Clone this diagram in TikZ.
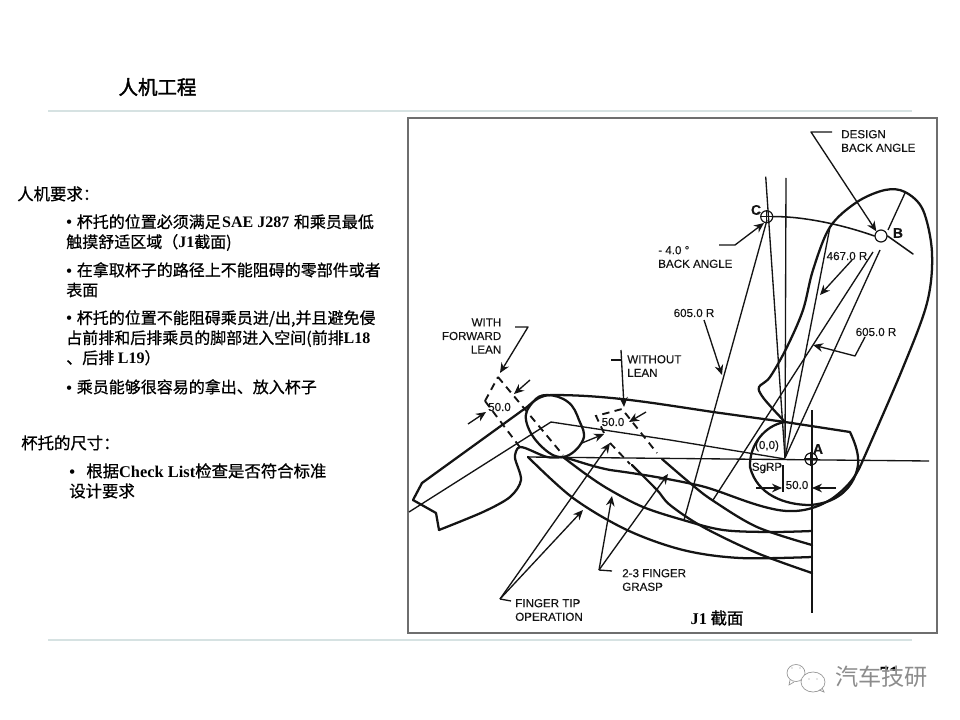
\documentclass[tikz,border=0pt]{standalone}
\usepackage{fontspec}
\usetikzlibrary{arrows.meta}
\setmainfont{Liberation Serif}
\newfontfamily\cjk{Noto Sans CJK SC}[FakeBold=0.7]
\newfontfamily\cjkb{Noto Sans CJK SC}[FakeBold=2.0]
\newfontfamily\cjkw{Noto Sans CJK SC}
\newfontfamily\lab{Liberation Sans}[FakeBold=0.25]
\newfontfamily\latn{Liberation Serif}
\newcommand{\LT}[1]{{\latn\bfseries #1}}
\newcommand{\BU}{\makebox[7.9pt][l]{\latn\bfseries •}}
\definecolor{rulepale}{HTML}{D6E2E2}
\definecolor{framegray}{HTML}{6E6E6E}
\definecolor{ink}{HTML}{141414}
\tikzset{
  thickline/.style={draw=ink,line width=1.7pt,line join=round,line cap=round},
  thinline/.style={draw=ink,line width=1pt,line join=round},
  dashline/.style={draw=ink,line width=1.4pt,dash pattern=on 5.5pt off 4pt},
  arrowline/.style={thinline,-{Stealth[length=7.5pt,width=6.5pt]}},
  rulerline/.style={draw=rulepale,line width=0.8pt},
  lbl/.style={font=\lab\fontsize{8.7pt}{10.2pt}\selectfont,text=ink,inner sep=0pt,align=left},
  lblr/.style={lbl,align=right},
  ptlbl/.style={font=\lab\bfseries\fontsize{10.5pt}{12pt}\selectfont,text=ink,inner sep=0pt},
  para/.style={font=\cjk\fontsize{12pt}{15pt}\selectfont,text=black,inner sep=0pt,align=left,anchor=north west},
  marker/.style={draw=ink,line width=0.9pt,circle,minimum size=9pt,inner sep=0pt}
}
\begin{document}
\begin{tikzpicture}[x=0.75pt,y=-0.75pt]
\useasboundingbox (0,0) rectangle (960,720);
\fill[white] (0,0) rectangle (960,720);
% rules and frame
\draw[rulerline] (48,111) -- (912,111);
\draw[rulerline] (48,640) -- (912,640);
\draw[draw=framegray,line width=1.5pt] (407.7,118) rectangle (937,632.7);
% left text
\node[font=\cjkb\fontsize{14.6pt}{16pt}\selectfont,inner sep=0pt,anchor=center] (title) at (157.5,87) {人机工程};
\node[para,font=\cjk\fontsize{12.3pt}{15pt}\selectfont] (h1) at (17,186) {人机要求：};
\node[para] (p1) at (66,214) {\BU 杯托的位置必须满足\hspace{1pt}\LT{SAE J287}\hspace{3.5pt}和乘员最低\\触摸舒适区域（\LT{J1}截面)};
\node[para] (p2) at (66,262) {\BU 在拿取杯子的路径上不能阻碍的零部件或者\\表面};
\node[para] (p3) at (66,310) {\BU 杯托的位置不能阻碍乘员进/出,并且避免侵\\占前排和后排乘员的脚部进入空间(前排\LT{L18}\\、后排 \LT{L19}）};
\node[para] (p4) at (66,379) {\BU 乘员能够很容易的拿出、放入杯子};
\node[para,font=\cjk\fontsize{12.3pt}{15pt}\selectfont] (h2) at (21,435) {杯托的尺寸：};
\node[para,font=\cjk\fontsize{12.3pt}{15pt}\selectfont] (p5) at (69,463) {\makebox[12.8pt][l]{\LT{•}}根据\LT{Check List}检查是否符合标准\\设计要求};
% seat back and cushion outline
\draw[thickline] plot[smooth,tension=0.55] coordinates {(785,422) (772,408) (762,396) (759,387) (770,377) (787,347) (803,310) (813,270) (830,227) (857,202) (885,190) (905,192) (923,210) (932,253) (927,303) (902,370) (863,460)};
\draw[thickline] (863,460) .. controls (858,472) and (852,484) .. (833,498) .. controls (815,510) and (795,514) .. (773,509) .. controls (745,503) and (720,490) .. (697,485) .. controls (670,479) and (640,474) .. (610,470) .. controls (590,466) and (575,460) .. (563,457);
\draw[thickline] (413,500) -- (422,483) -- (527,407) .. controls (534,401) and (540,395) .. (552,395) .. controls (600,395) and (640,401) .. (680,407) -- (713,412) -- (785,422);
\draw[thickline] (785,422) -- (850,432) .. controls (856,445) and (859,455) .. (858,465) .. controls (855,485) and (840,503) .. (810,505) .. controls (785,505) and (757,495) .. (750,467) .. controls (749,445) and (765,425) .. (785,422);
\draw[thickline] (413,500) -- (436,513) -- (439,530);
\draw[thickline] plot[smooth,tension=0.5] coordinates {(439,530) (483,512) (510,497) (521,480) (515,458) (518,448) (525,448) (547,457) (563,457)};
% hand circle
\draw[thickline] plot[smooth cycle,tension=0.7] coordinates {(547,395) (568,402) (579,420) (583,440) (563,457) (540,445) (526,420) (533,402)};
% seat reference lines
\draw[thinline] (409,512) -- (551,422) -- (670,440) -- (785,459);
\draw[thinline] (528,457) -- (929,461);
\draw[thinline] (812,410) -- (812,613);
% finger curves
\draw[thickline] plot[smooth,tension=0.55] coordinates {(563,457) (587,475) (610,490) (643,507) (683,520) (723,530) (770,532) (812,531)};
\draw[thickline] plot[smooth,tension=0.55] coordinates {(528,457) (573,498) (627,530) (683,550) (740,558) (812,557)};
\draw[thickline] plot[smooth,tension=0.55] coordinates {(662,459) (690,483) (712,500) (757,527) (812,545)};
\draw[thickline] plot[smooth,tension=0.55] coordinates {(632,465) (657,490) (670,505) (703,527) (757,553) (812,573)};
% dashed access corridors
\draw[dashline] (485,401) -- (498,377);
\draw[dashline] (498,377) -- (563,455);
\draw[dashline] (485,401) -- (522,450);
\draw[dashline] (604,433) -- (596,416) -- (622,409) -- (657,453);
\draw[dashline] (610,443) -- (630,464);
% radial lines
\coordinate (sgrp) at (785,458);
\node[marker] (mc) at (766.7,216.7) {};
\node[marker] (mb) at (881,236) {};
\node[marker] (ma) at (811,459) {};
\draw[thinline] (ma.north) -- (ma.south) (ma.west) -- (ma.east);
\draw[thinline] (mc.north) -- (mc.south) (mc.west) -- (mc.east);
\draw[thinline] (786,178) -- (sgrp);
\draw[thinline] (765.7,176.7) -- (sgrp);
\draw[thinline] (767,220) -- (684,520);
\draw[thinline] (830,227) -- (sgrp);
\draw[thinline] (873,252) -- (713,500);
\draw[thinline] (880,250) -- (sgrp);
\draw[thinline] (905,193) -- (888,230);
\draw[thickline,line width=1.15pt] (mc.east) .. controls (795,216) and (835,222) .. (mb.west);
\draw[thickline,line width=1.15pt] (mb.east) -- (913,254);
% point labels
\node[ptlbl] (lc) at (756,210) {C};
\node[ptlbl] (lb) at (898,233) {B};
\node[ptlbl] (la) at (818,449) {A};
% dimension labels
\node[lbl,anchor=west] (design) at (841,141) {DESIGN\\BACK ANGLE};
\node[lbl,anchor=west] (back4) at (658,257) {- 4.0 °\\BACK ANGLE};
\node[lblr,anchor=east] (fwd) at (501.5,336) {WITH\\FORWARD\\LEAN};
\node[lbl,anchor=west] (nolean) at (627,366) {WITHOUT\\LEAN};
\node[lbl] (r605a) at (694,313) {605.0 R};
\node[lbl] (r467) at (847,256) {467.0 R};
\node[lbl] (r605b) at (876,332) {605.0 R};
\node[lbl] (d50a) at (499.5,407) {50.0};
\node[lbl] (d50b) at (613,422) {50.0};
\node[lbl] (d50c) at (797,485) {50.0};
\node[lbl] (origin) at (767,446) {(0,0)};
\node[lbl] (sg) at (767,468) {SgRP};
\node[lbl,anchor=west] (tip) at (515,610) {FINGER TIP\\OPERATION};
\node[lbl,anchor=west] (grasp) at (622,580) {2-3 FINGER\\GRASP};
% leaders
\coordinate (ldA) at (832,132);\coordinate (ldB) at (811,132);
\draw[arrowline] (ldA) -- (ldB) -- (mb.north west);
\coordinate (lcA) at (719,245);\coordinate (lcB) at (735,245);
\draw[arrowline] (lcA) -- (lcB) -- (764,223);
\coordinate (lfA) at (515,327);\coordinate (lfB) at (528,327);
\draw[arrowline] (lfA) -- (lfB) -- (500,373);
\coordinate (lwA) at (611,360);\coordinate (lwB) at (621,360);\coordinate (lwT) at (621,350);
\draw[thinline] (lwA) -- (lwB);
\draw[arrowline] (lwT) -- (624,407);
\draw[arrowline] (704,320) -- (722,375);
\draw[arrowline] (852,260) -- (820,295);
\draw[arrowline] (865,337) -- (855,356) -- (813,345);
% 50.0 arrows
\draw[arrowline] (468,424) -- (486,412);
\draw[arrowline] (530,380) -- (514,394);
\draw[arrowline] (646,412) -- (629,422);
\draw[arrowline] (582,443) -- (604,434);
\draw[thinline] (783,465) -- (783,492);
\draw[arrowline] (756,488) -- (782,488);
\draw[arrowline] (836,488) -- (812,488);
% finger leaders
\coordinate (tA) at (511,601);\coordinate (tB) at (500,599);
\draw[thinline] (tA) -- (tB);
\draw[arrowline] (tB) -- (610,443);
\draw[arrowline] (tB) -- (583,510);
\coordinate (gA) at (612,571);\coordinate (gB) at (599,570);
\draw[thinline] (gA) -- (gB);
\draw[arrowline] (gB) -- (612,496);
\draw[arrowline] (gB) -- (668,474);
% caption
\node[inner sep=0pt,font=\cjk\fontsize{12.3pt}{14pt}\selectfont] (cap) at (717,618) {\LT{J1} 截面};
% page number hidden under the watermark
\begin{scope}
\clip (870,660) rectangle (900,670);
\node[inner sep=0pt,font=\latn\bfseries\fontsize{14pt}{15pt}\selectfont] (pg) at (889,673) {71};
\end{scope}
% watermark
\node[inner sep=0pt,font=\cjkw\fontsize{17.4pt}{19pt}\selectfont,text=black!45] (wm) at (881.5,677) {汽车技研};
\draw[black!42,line width=0.5pt,fill=white] (796,673) ellipse (9 and 8.5);
\draw[black!42,line width=0.5pt] (790,680) -- (789,685) -- (794,682);
\draw[black!42,line width=0.5pt,fill=white] (813,682) ellipse (12 and 10);
\draw[black!42,line width=0.5pt] (819,690) -- (824,692) -- (822,688);
\fill[black!42] (792,668) circle (0.7) (800,668) circle (0.7) (809,679) circle (0.7) (817,679) circle (0.7);
\end{tikzpicture}
\end{document}
